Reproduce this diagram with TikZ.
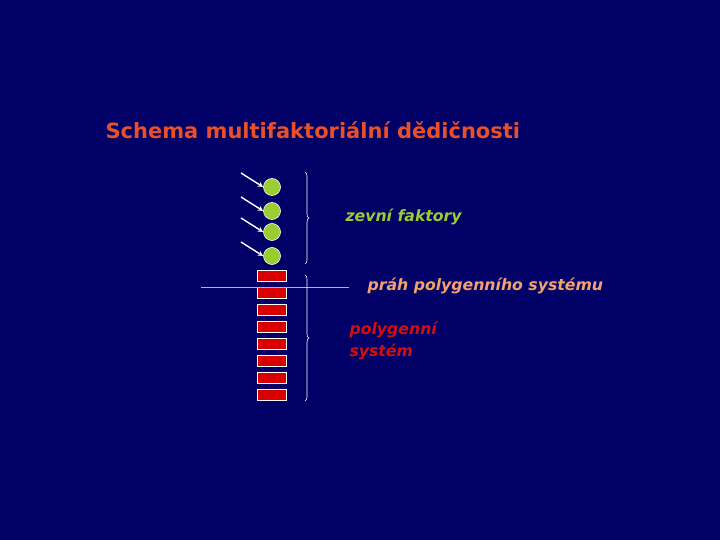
\documentclass[tikz,border=0pt]{standalone}
\usepackage{fontspec}
\setmainfont{DejaVu Sans}
\usetikzlibrary{decorations.pathreplacing}
\definecolor{bg}{HTML}{000066}
\definecolor{ttl}{HTML}{E8502A}
\definecolor{grn}{HTML}{9ACD32}
\definecolor{thr}{HTML}{F4A070}
\definecolor{poly}{HTML}{D01010}
\begin{document}
\begin{tikzpicture}[x=1pt,y=-1pt,
  ball/.style={circle,fill=grn,draw=white,line width=0.6pt,minimum size=17pt,inner sep=0pt},
  gene/.style={rectangle,fill=red!85!black,draw=white,line width=0.6pt,minimum width=29pt,minimum height=11pt,inner sep=0pt},
  arr/.style={white,line width=1.4pt,-stealth},
  brc/.style={white,line width=0.6pt,decorate,decoration={brace,amplitude=4pt}},
  lbl/.style={anchor=west,font=\bfseries\itshape\fontsize{15.7}{19}\selectfont}]
\fill[bg] (0,0) rectangle (720,540);
\useasboundingbox (0,0) rectangle (720,540);
\node[text=ttl,anchor=west,font=\bfseries\fontsize{21}{24}\selectfont] (title) at (102,130) {Schema multifaktoriální dědičnosti};
\foreach \i/\y in {1/187,2/211,3/232,4/256}{
  \node[ball] (b\i) at (272,\y) {};
  \coordinate (s\i) at (241,\y-14);
  \draw[arr] (s\i) -- (b\i.west);
}
\foreach \i/\y in {1/275.5,2/292.5,3/309.5,4/326.5,5/343.5,6/360.5,7/377.5,8/394.5}{
  \node[gene] (g\i) at (272,\y) {};
}
\coordinate (l1) at (201,287);
\coordinate (l2) at (349,287);
\draw[thr,line width=0.8pt] (l1) -- (l2);
\coordinate (a1) at (305,172); \coordinate (a2) at (305,264);
\coordinate (c1) at (305,275); \coordinate (c2) at (305,401);
\draw[brc] (a1) -- (a2);
\draw[brc] (c1) -- (c2);
\node[text=grn,lbl] (zf) at (342,217) {zevní faktory};
\node[text=thr,lbl] (pr) at (364,286) {práh polygenního systému};
\node[text=poly,lbl,align=left,font=\bfseries\itshape\fontsize{15.7}{22}\selectfont] (ps) at (346,341) {polygenní\\systém};
\end{tikzpicture}
\end{document}
